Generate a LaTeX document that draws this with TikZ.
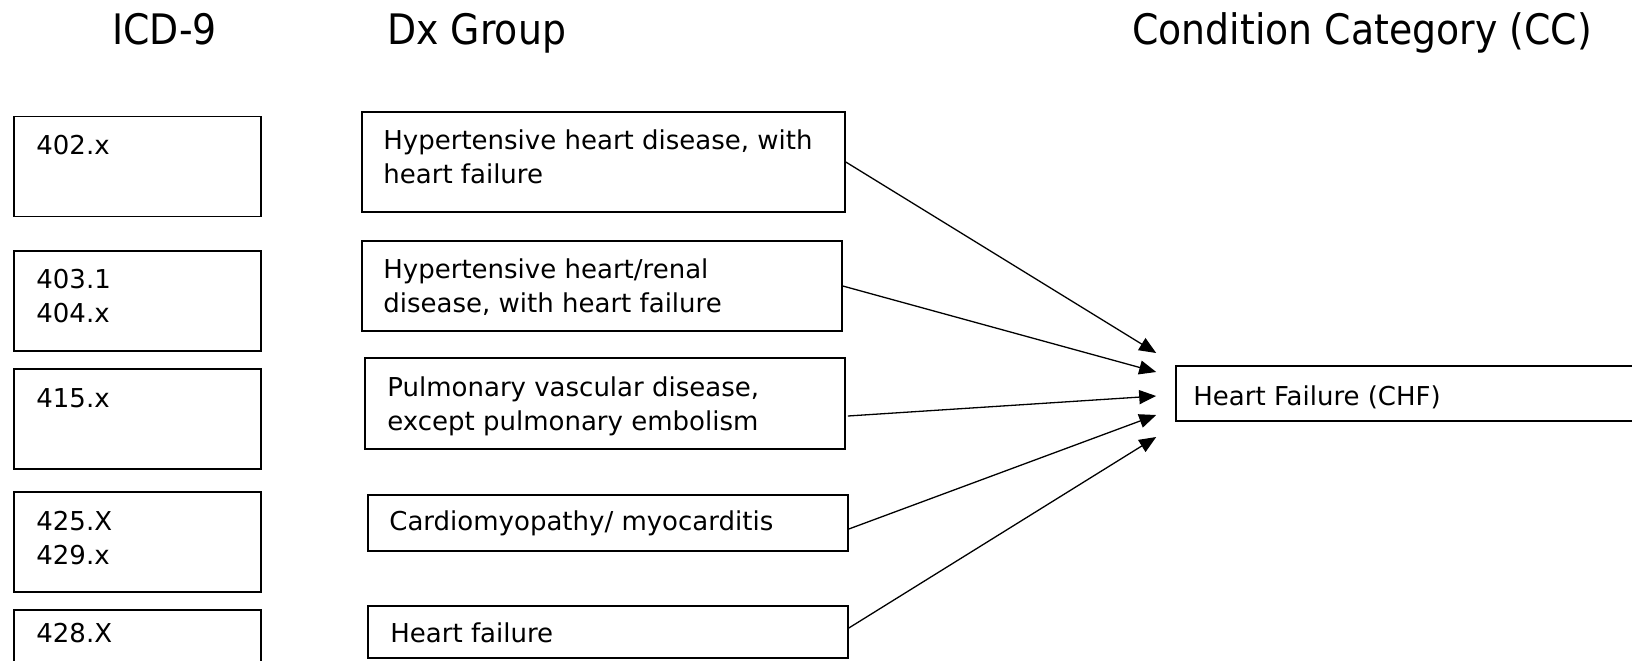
\documentclass[tikz,border=0pt]{standalone}
\usepackage{fontspec}
\setmainfont{DejaVu Sans}
\newfontfamily\headfont{DejaVu Sans}[FakeStretch=0.9]
\usetikzlibrary{arrows.meta,calc}

\begin{document}
\begin{tikzpicture}[
    x=0.5pt, y=-0.5pt,
    % Define the styles for the boxes, texts and arrows
    box/.style={draw, line width=0.8pt, inner sep=0pt, minimum height=50pt},
    icdbox/.style={box, minimum width=123.5pt},
    dxbox/.style={box, minimum width=240pt},
    txt/.style={anchor=base west, inner sep=0pt, align=left, font=\fontsize{13pt}{17.25pt}\selectfont},
    head/.style={anchor=base west, inner sep=0pt, font=\headfont\fontsize{21pt}{25pt}\selectfont},
    link/.style={line width=0.65pt, -{Triangle[length=8.5pt,width=7pt]}}
  ]

  \useasboundingbox (0,0) rectangle (1632,660);
  \clip (0,0) rectangle (1632,660);

  % column headings
  \node[head] (h-icd) at (112,44) {ICD-9};
  \node[head] (h-dx) at (387,44) {Dx Group};
  \node[head] (h-cc) at (1132,44) {Condition Category (CC)};

  % ICD-9 codes (text nodes sit on the baseline of their last line)
  \node[icdbox] (icd1) at (137.5,166.5) {};
  \node[icdbox] (icd2) at (137.5,301) {};
  \node[icdbox] (icd3) at (137.5,419) {};
  \node[icdbox] (icd4) at (137.5,542) {};
  \node[icdbox] (icd5) at (137.5,660) {};

  \node[txt] (icd1-t) at (36,154) {402.x};
  \node[txt] (icd2-t) at (36,322.5) {403.1\\404.x};
  \node[txt] (icd3-t) at (36,407) {415.x};
  \node[txt] (icd4-t) at (36,564.5) {425.X\\429.x};
  \node[txt] (icd5-t) at (36,642) {428.X};

  % Dx groups
  \node[dxbox, minimum width=241.5pt] (dx1) at (603.5,162) {};
  \node[dxbox, minimum height=45pt] (dx2) at (602,286) {};
  \node[dxbox, minimum height=45.5pt] (dx3) at (605,403.5) {};
  \node[dxbox, minimum height=28pt] (dx4) at (608,523) {};
  \node[dxbox, minimum height=26pt] (dx5) at (608,632) {};

  \node[txt] (dx1-t) at (383,183.5) {Hypertensive heart disease, with\\heart failure};
  \node[txt] (dx2-t) at (383,312.5) {Hypertensive heart/renal\\disease, with heart failure};
  \node[txt] (dx3-t) at (387,430.5) {Pulmonary vascular disease,\\except pulmonary embolism};
  \node[txt] (dx4-t) at (389,530) {Cardiomyopathy/ myocarditis};
  \node[txt] (dx5-t) at (390,642) {Heart failure};

  % condition category
  \node[box, minimum width=300pt, minimum height=27.5pt] (chf) at (1476,393.5) {};
  \node[txt] (chf-t) at (1193,405) {Heart Failure (CHF)};

  \coordinate (t1) at ($(chf.west)+(-19,-40.5)$);
  \coordinate (t2) at ($(chf.west)+(-19,-21.5)$);
  \coordinate (t3) at ($(chf.west)+(-19,2.5)$);
  \coordinate (t4) at ($(chf.west)+(-19,21.5)$);
  \coordinate (t5) at ($(chf.west)+(-19,43.5)$);

  \draw[link] (dx1.east) -- (t1);
  \draw[link] (dx2.east) -- (t2);
  \draw[link] ($(dx3.east)+(2,12.5)$) -- (t3);
  \draw[link] ($(dx4.east)+(0,6)$) -- (t4);
  \draw[link] ($(dx5.east)+(0,-4)$) -- (t5);

\end{tikzpicture}
\end{document}
